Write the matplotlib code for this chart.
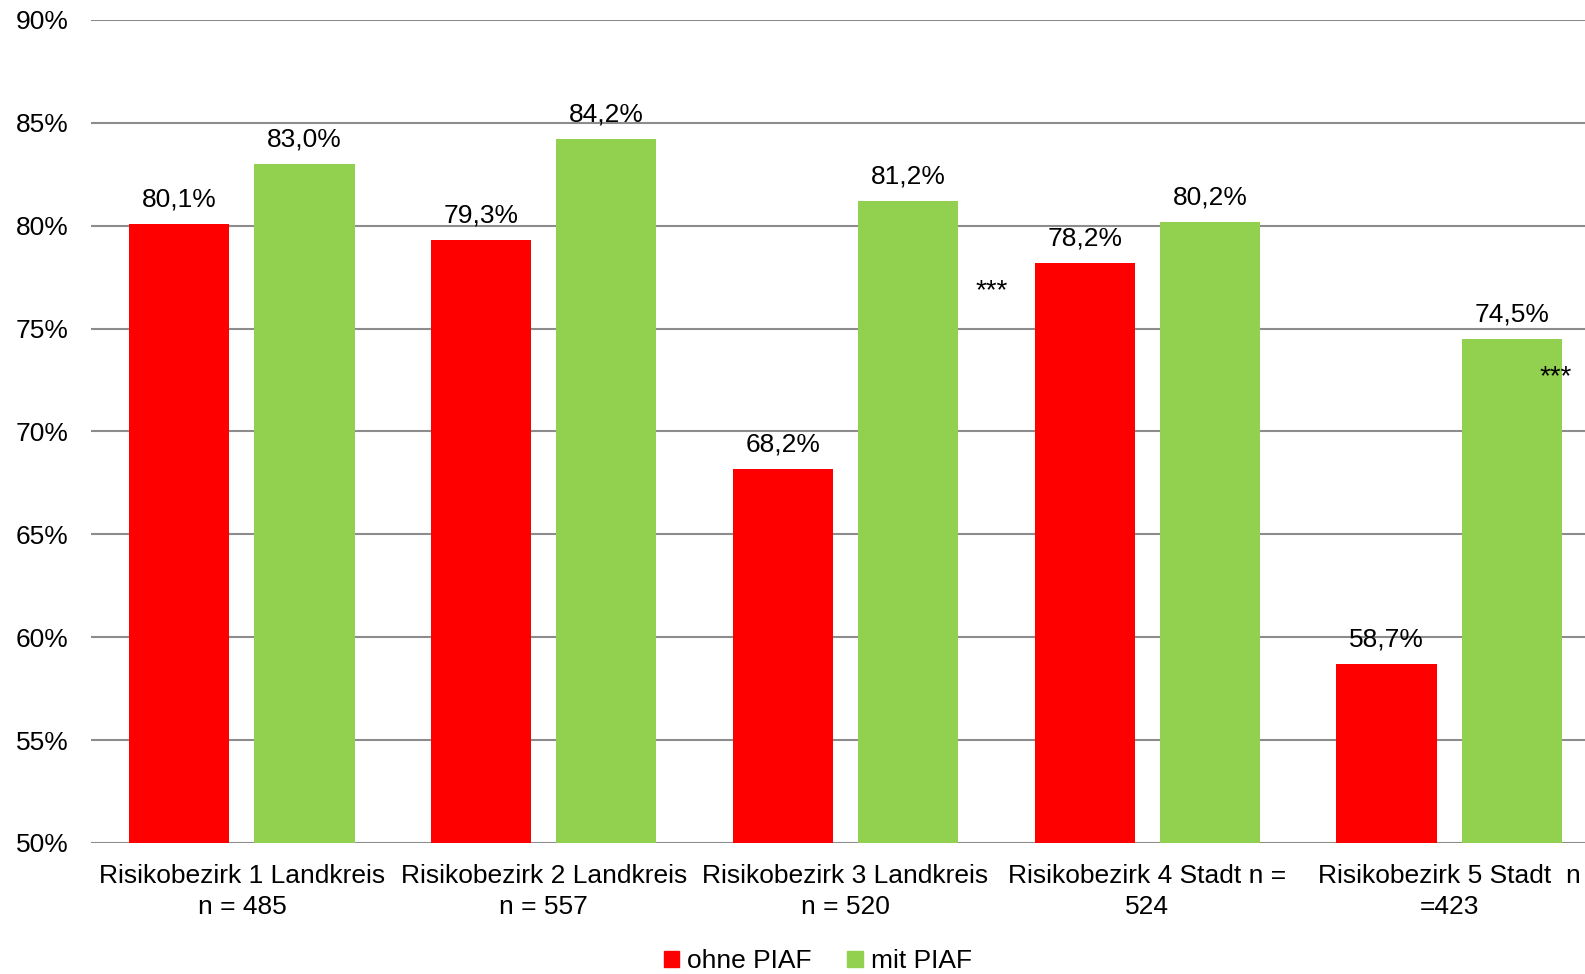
#!/usr/bin/env python3
import numpy as np
import matplotlib
matplotlib.use("Agg")
import matplotlib.pyplot as plt
from matplotlib.patches import Patch

plt.rcParams['font.family'] = ['Liberation Sans', 'DejaVu Sans']

##########################################################################
# data
categories = ["Risikobezirk 1 Landkreis\nn = 485",
              "Risikobezirk 2 Landkreis\nn = 557",
              "Risikobezirk 3 Landkreis\nn = 520",
              "Risikobezirk 4 Stadt n =\n524",
              "Risikobezirk 5 Stadt  n\n=423"]
ohne_piaf = [80.1, 79.3, 68.2, 78.2, 58.7]
mit_piaf = [83.0, 84.2, 81.2, 80.2, 74.5]
series_names = ["ohne PIAF", "mit PIAF"]
# significance marks: (x position in category units, y value)
stars = [(2.483, 76.8), (4.353, 72.65)]
y_ticks = [50, 55, 60, 65, 70, 75, 80, 85, 90]

##########################################################################
red = "#ff0000"
green = "#92d050"
fs = 19

# the plot area runs on past the right edge of the figure
fig = plt.figure(figsize=(15.85, 9.74), dpi=100)
ax = fig.add_axes([91/1585, 1-843/974, (1600-91)/1585, (843-20)/974])

x = np.arange(len(categories))
w = 0.332
off = 0.2076
ax.bar(x - off, ohne_piaf, w, color=red, zorder=3)
ax.bar(x + off, mit_piaf, w, color=green, zorder=3)

for xi, v in zip(x - off, ohne_piaf):
    ax.annotate(f"{v:.1f}%".replace(".", ","), (xi, v), xytext=(0, 9),
                textcoords="offset points", ha="center", va="bottom", fontsize=fs)
for xi, v in zip(x + off, mit_piaf):
    ax.annotate(f"{v:.1f}%".replace(".", ","), (xi, v), xytext=(0, 9),
                textcoords="offset points", ha="center", va="bottom", fontsize=fs)

for sx, sy in stars:
    ax.text(sx, sy, "***", ha="center", va="center", fontsize=20, zorder=4)

ax.set_xlim(-0.5, len(categories) - 0.5)
ax.set_ylim(50, 90)
ax.set_yticks(y_ticks)
ax.set_yticklabels([f"{t}%" for t in y_ticks], fontsize=fs)
ax.set_xticks(x)
ax.set_xticklabels(categories, fontsize=fs, linespacing=1.38)
ax.tick_params(axis="both", length=0)
ax.tick_params(axis="y", pad=16)
ax.tick_params(axis="x", pad=15)
ax.yaxis.grid(True, color="#8c8c8c", linewidth=1.5, zorder=0)
for s in ax.spines.values():
    s.set_visible(False)

##########################################################################
handles = [Patch(color=red), Patch(color=green)]
fig.legend(handles, series_names, loc="center", bbox_to_anchor=(0.516, 0.013),
           ncol=2, frameon=False, fontsize=fs, handlelength=0.6, handleheight=0.6,
           handletextpad=0.3, columnspacing=1.35)

fig.savefig("out.png", dpi=100)
plt.close()
